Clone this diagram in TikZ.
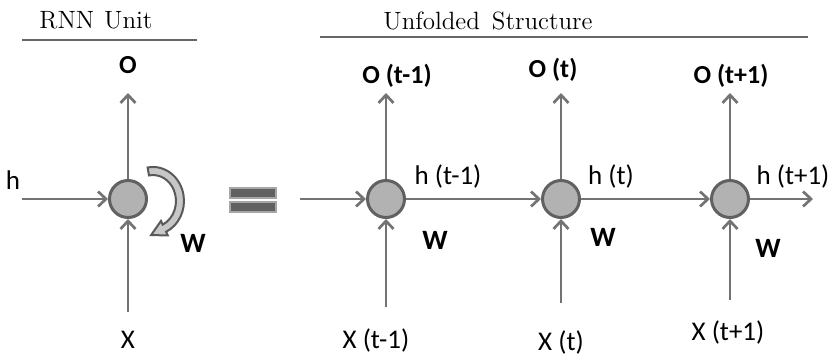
\documentclass[tikz,border=0pt]{standalone}
\usepackage{fontspec}
\newfontfamily\labelfont{Carlito}
\usetikzlibrary{arrows.meta}

\begin{document}
\begin{tikzpicture}[x=0.5pt, y=-0.5pt, >={Straight Barb[length=4pt,width=7.5pt]}]
    \tikzset{
      cell/.style={circle, draw=black!62, fill=black!30, line width=1.5pt, minimum size=18.5pt, inner sep=0pt},
      flow/.style={->, draw=black!55, line width=1.35pt},
      rule/.style={draw=black!60, line width=0.6pt},
      lbl/.style={font=\labelfont\fontsize{13.5}{16}\selectfont},
      blbl/.style={font=\labelfont\bfseries\fontsize{13}{15}\selectfont},
      wlbl/.style={font=\labelfont\bfseries\fontsize{14}{16}\selectfont},
      head/.style={font=\fontsize{12.5}{15}\selectfont},
      eqbar/.style={draw=black!35, fill=black!62, line width=0.6pt, minimum width=23pt, minimum height=5pt, inner sep=0pt}
    }
    \useasboundingbox (0,0) rectangle (829,358);

    % folded unit
    \node[head] (unithead) at (96,20) {RNN\hspace{5pt}Unit};
    \draw[rule] (22,40) -- (197,40);
    \node[cell] (unit) at (128,199) {};
    \node[blbl] (unito) at (128,65) {O};
    \node[lbl] (unitx) at (128,340) {X};
    \node[lbl] (unith) at (13,180) {h};
    \node[wlbl] (unitw) at (193,243) {W};
    \coordinate (unitin) at (22,199);
    \coordinate (unitxin) at (128,312);
    \coordinate (unitout) at (128,93);
    \draw[flow] (unitin) -- (unit);
    \draw[flow] (unitxin) -- (unit);
    \draw[flow] (unit) -- (unitout);
    % self loop
    \filldraw[draw=black!65, fill=black!22, line width=1pt]
      (147.6,167.5) arc[start angle=-100, end angle=65, x radius=31, y radius=34]
      -- (167.8,235.4) -- (151.1,235.1) -- (161.0,220.9) -- (162.7,224.6)
      arc[start angle=65, end angle=-100, x radius=23, y radius=26] -- cycle;

    % equals
    \node[eqbar] (eqtop) at (253,193) {};
    \node[eqbar] (eqbot) at (253,207) {};

    % unfolded chain
    \node[head] (unfoldhead) at (488,21) {Unfolded\hspace{6pt}Structure};
    \draw[rule] (320,37) -- (808,37);

    \node[cell] (prev) at (386,199) {};
    \node[cell] (curr) at (561,199) {};
    \node[cell] (next) at (730,199) {};

    \node[blbl] (prevo) at (397,76) {O (t-1)};
    \node[blbl] (curro) at (553,70) {O (t)};
    \node[blbl] (nexto) at (731,76) {O (t+1)};

    \node[lbl] (prevh) at (448,176) {h (t-1)};
    \node[lbl] (currh) at (611,176) {h (t)};
    \node[lbl] (nexth) at (793,176) {h (t+1)};

    \node[wlbl] (prevw) at (435,240) {W};
    \node[wlbl] (currw) at (603,237) {W};
    \node[wlbl] (nextw) at (768,248) {W};

    \node[lbl] (prevx) at (376,340) {X (t-1)};
    \node[lbl] (currx) at (561,342) {X (t)};
    \node[lbl] (nextx) at (728,332) {X (t+1)};

    \coordinate (chainin) at (300,199);
    \coordinate (chainout) at (813,199);
    \coordinate (prevout) at (386,93);
    \coordinate (currout) at (561,93);
    \coordinate (nextout) at (730,93);
    \coordinate (prevxin) at (386,307);
    \coordinate (currxin) at (561,303);
    \coordinate (nextxin) at (730,300);

    \draw[flow] (chainin) -- (prev);
    \draw[flow] (prev) -- (curr);
    \draw[flow] (curr) -- (next);
    \draw[flow] (next) -- (chainout);
    \draw[flow] (prev) -- (prevout);
    \draw[flow] (curr) -- (currout);
    \draw[flow] (next) -- (nextout);
    \draw[flow] (prevxin) -- (prev);
    \draw[flow] (currxin) -- (curr);
    \draw[flow] (nextxin) -- (next);
  \end{tikzpicture}
\end{document}
